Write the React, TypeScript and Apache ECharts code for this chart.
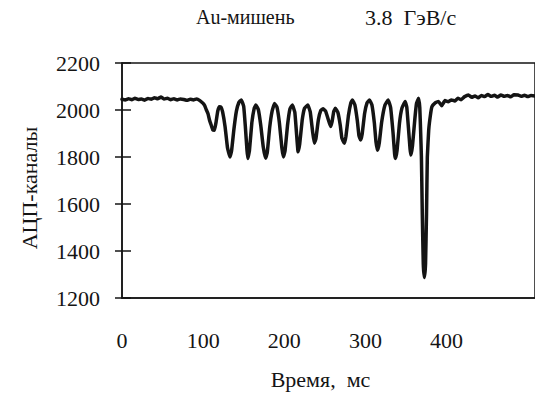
import React, { useEffect, useRef } from "react";
import * as echarts from "echarts";

const titleLeft = "Au-мишень";
const titleRight = "3.8  ГэВ/с";
const xName = "Время,  мс";
const yName = "АЦП-каналы";

const xTicks = [0, 100, 200, 300, 400];
const yTicks = [1200, 1400, 1600, 1800, 2000, 2200];

// time, ms
const times = [
  0, 4, 8, 12, 16, 20, 24, 28, 32, 36, 40, 44, 48, 52, 56, 60, 64, 68, 72, 76, 80, 84, 88, 92, 96,
  100, 102, 104, 106, 108, 110, 112, 114, 116, 118, 120, 122, 124, 127, 130, 133, 135, 138, 141, 144,
  147, 150, 152, 154, 155, 157, 160, 163, 165, 168, 171, 174, 177, 179, 182, 185, 188, 191, 194, 197,
  199, 201, 204, 207, 210, 213, 215, 217, 219, 222, 225, 229, 232, 235, 237, 239, 242, 245, 248, 251,
  254, 257, 259, 261, 263, 266, 269, 271, 274, 276, 279, 282, 284, 287, 290, 292, 294, 296, 299, 302,
  305, 308, 311, 313, 315, 317, 320, 324, 328, 331, 334, 336, 337, 339, 342, 345, 349, 351, 353, 355,
  356, 358, 361, 363, 365.5, 367, 368, 369, 370.1, 371.3, 372.7, 374.1, 375.3, 376.3, 378, 380, 382,
  386, 390, 394, 398, 402, 406, 410, 414, 418, 422, 427, 431, 435, 439, 443, 447, 451, 455, 459, 463,
  467, 471, 475, 479, 483, 488, 492, 496, 500, 504, 509,
];

// ADC channels
const adc = [
  2046, 2043, 2048, 2044, 2050, 2045, 2047, 2042, 2049, 2046, 2052, 2048, 2055, 2047, 2050, 2044, 2048,
  2043, 2047, 2045, 2041, 2046, 2043, 2047, 2040,
  2028, 2018, 2000, 1984, 1955, 1935, 1915, 1914, 1950, 1995, 2014, 2012, 1992, 1930, 1840, 1800, 1825,
  1920, 1995, 2032, 2043, 2015, 1930, 1830, 1794, 1825, 1945, 2008, 2021, 2002, 1935, 1845, 1795, 1818,
  1925, 1995, 2028, 2012, 1945, 1840, 1800, 1828, 1935, 2005, 2021, 1990, 1905, 1822, 1855, 1955, 2008,
  2021, 1992, 1905, 1858, 1878, 1958, 1998, 2005, 1995, 1962, 1930, 1952, 1994, 2007, 1990, 1935, 1880,
  1858, 1888, 1975, 2030, 2043, 2022, 1955, 1892, 1872, 1898, 1985, 2030, 2043, 2022, 1945, 1865, 1829,
  1858, 1948, 2020, 2043, 2012, 1905, 1812, 1794, 1828, 1945, 2008, 2036, 2012, 1925, 1835, 1808, 1848,
  1965, 2028, 2050, 2010, 1914, 1800, 1558, 1346, 1287, 1346, 1558, 1800, 1914, 1975, 2014, 2030, 2036,
  2018, 2040, 2035, 2043, 2038, 2050, 2044, 2056, 2064, 2054, 2060, 2052, 2062, 2057, 2066, 2058, 2063,
  2055, 2064, 2058, 2062, 2056, 2065, 2064, 2058, 2063, 2057, 2062, 2060,
];

const FONT = "Liberation Serif";
const INK = "#141414";

export default function App() {
  const ref = useRef<HTMLDivElement>(null);
  useEffect(() => {
    if (!ref.current) return;
    const chart = echarts.init(ref.current, null, { renderer: "svg" });
    const data = times.map((t, i) => [t, adc[i]]);
    const xMax = 509;
    const labelRich = { t: { fontFamily: FONT, fontSize: 22, color: INK } };
    chart.setOption({
      animation: false,
      backgroundColor: "#ffffff",
      textStyle: { fontFamily: FONT, color: INK },
      title: [
        {
          text: titleLeft,
          left: 196,
          top: 7,
          padding: 0,
          textStyle: { fontFamily: FONT, fontSize: 20, fontWeight: "normal", color: INK },
        },
        {
          text: titleRight,
          left: 365,
          top: 6,
          padding: 0,
          textStyle: { fontFamily: FONT, fontSize: 22, fontWeight: "normal", color: INK },
        },
      ],
      grid: {
        left: 122,
        right: -2,
        top: 63,
        bottom: 97,
        show: true,
        borderColor: INK,
        borderWidth: 1.5,
        backgroundColor: "transparent",
      },
      xAxis: {
        type: "value",
        min: 0,
        max: xMax,
        interval: 100,
        name: xName,
        nameLocation: "middle",
        nameGap: 70,
        nameTextStyle: { fontFamily: FONT, fontSize: 22, color: INK, padding: [0, 16, 0, 0] },
        axisLine: { show: true, lineStyle: { color: INK, width: 1.5 } },
        axisTick: { show: false },
        splitLine: { show: false },
        axisLabel: {
          margin: 31,
          fontFamily: FONT,
          fontSize: 22,
          color: INK,
          showMaxLabel: false,
          formatter: (v: number) => (xTicks.includes(v) ? "{t|" + v + "}" : ""),
          rich: labelRich,
        },
      },
      yAxis: [
        {
          type: "value",
          min: yTicks[0],
          max: yTicks[yTicks.length - 1],
          interval: 200,
          name: yName,
          nameLocation: "middle",
          nameGap: 82,
          nameTextStyle: { fontFamily: FONT, fontSize: 22, color: INK, padding: [0, 15, 0, 0] },
          axisLine: { show: true, lineStyle: { color: INK, width: 1.5 } },
          axisTick: { show: true, inside: true, length: 9, lineStyle: { color: INK, width: 1.5 } },
          splitLine: { show: false },
          axisLabel: {
            margin: 22,
            fontFamily: FONT,
            fontSize: 22,
            color: INK,
            formatter: (v: number) => (yTicks.includes(v) ? "{t|" + v + "}" : ""),
            rich: labelRich,
          },
        },
        {
          type: "value",
          position: "left",
          min: yTicks[0],
          max: yTicks[yTicks.length - 1],
          interval: 200,
          axisLine: { show: false },
          axisTick: { show: true, inside: false, length: 7, lineStyle: { color: INK, width: 1.5 } },
          axisLabel: { show: false },
          splitLine: { show: false },
        },
      ],
      series: [
        {
          type: "line",
          data,
          showSymbol: false,
          smooth: 0.1,
          lineStyle: { color: INK, width: 3.5, join: "round", cap: "round" },
          emphasis: { disabled: true },
        },
      ],
    });
    return () => chart.dispose();
  }, []);
  return (
    <div
      ref={ref}
      style={{ position: "fixed", left: 0, top: 0, width: 535, height: 395, background: "#fff" }}
    />
  );
}
